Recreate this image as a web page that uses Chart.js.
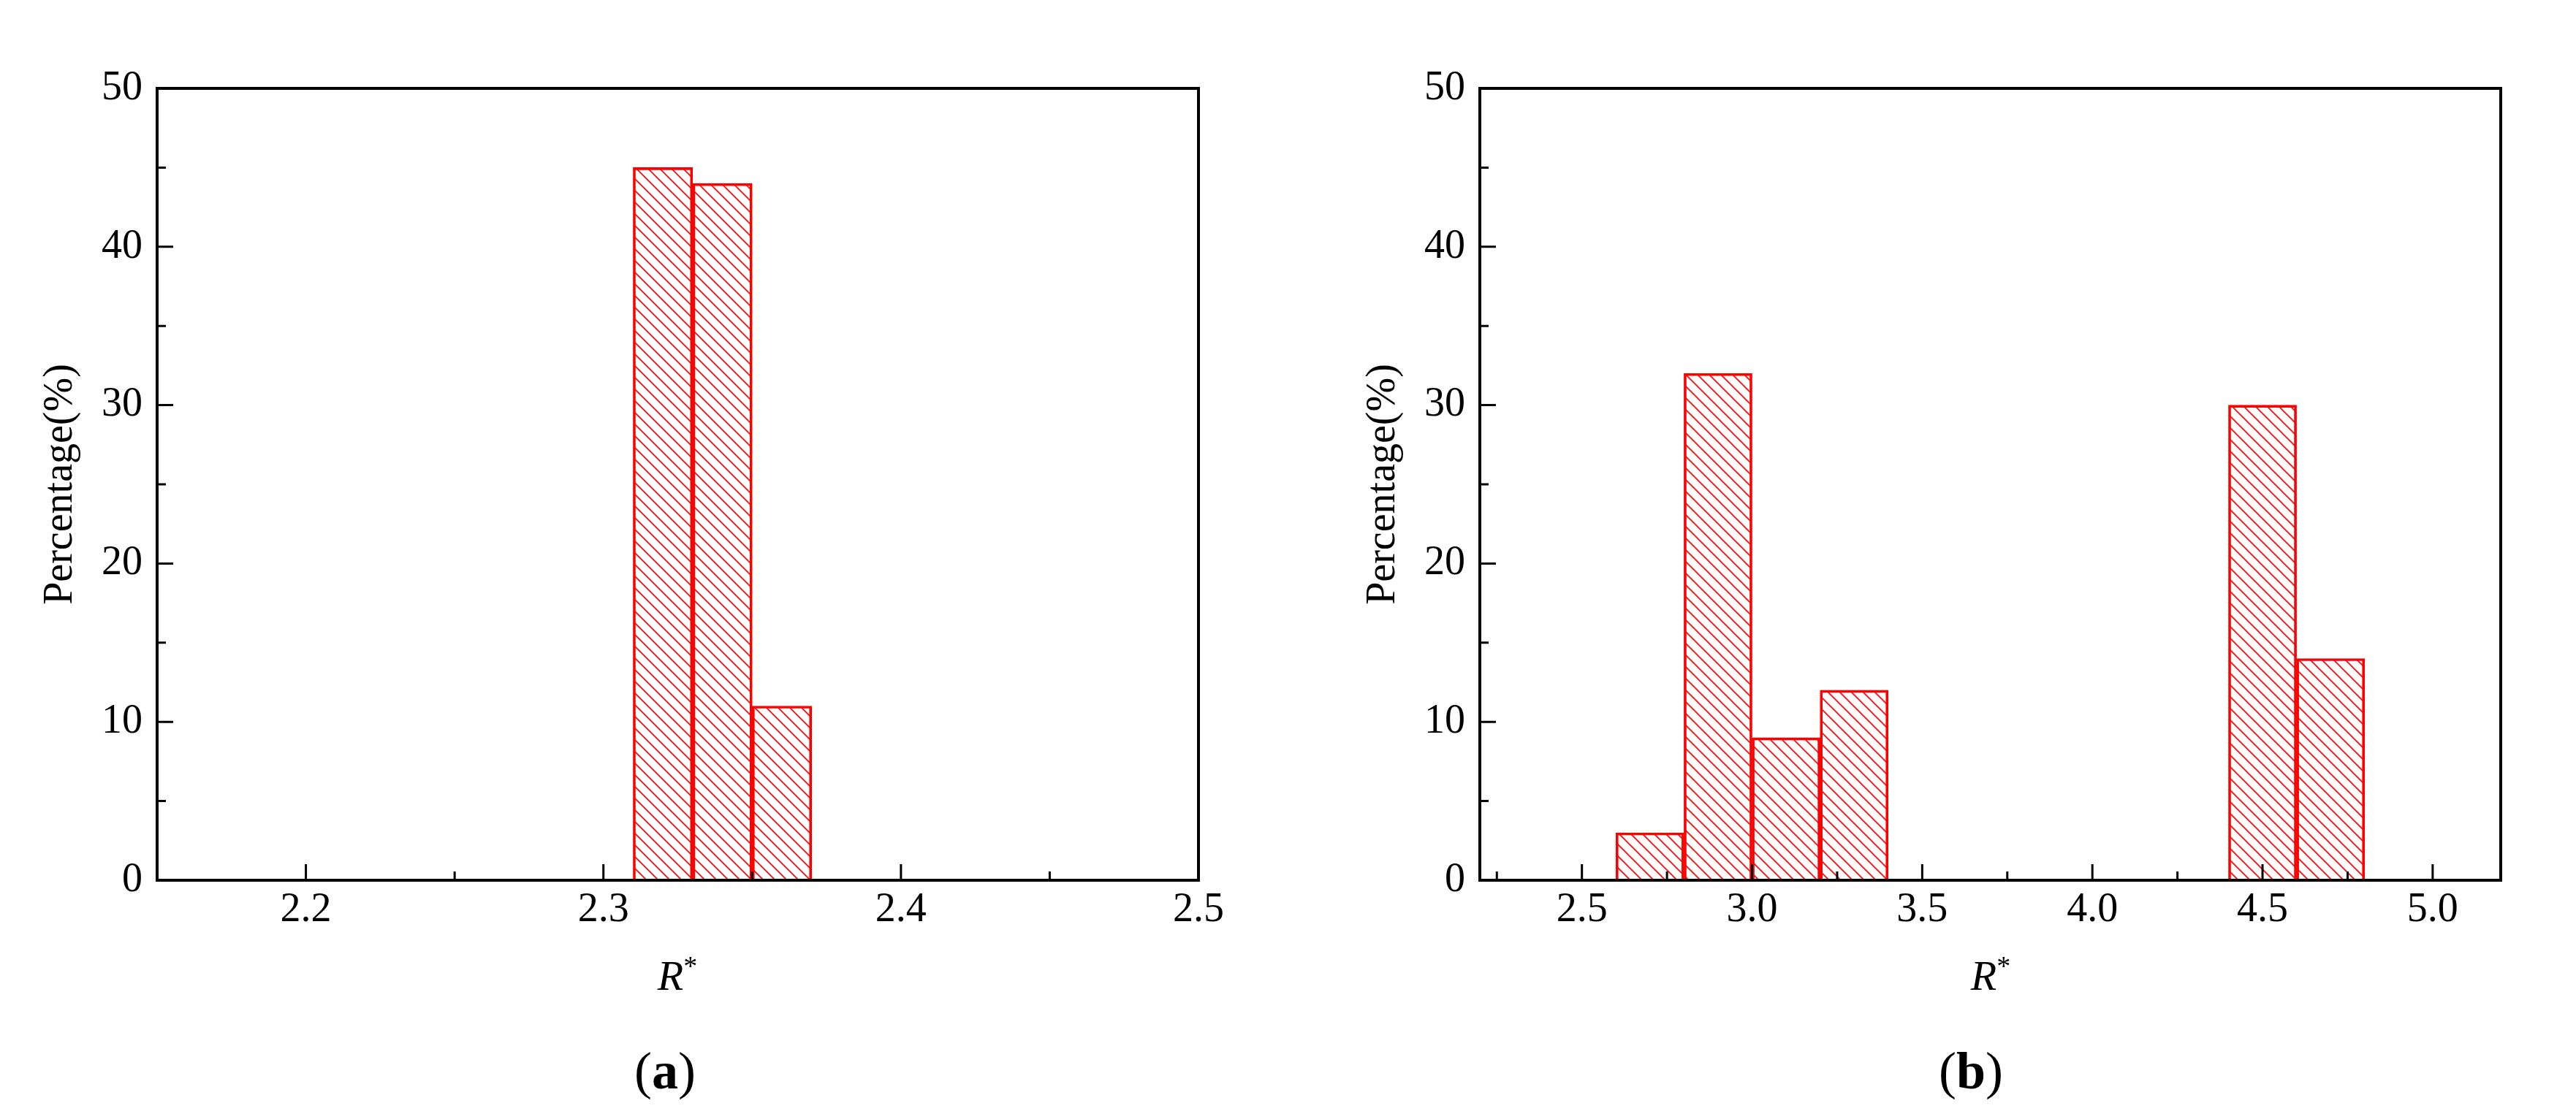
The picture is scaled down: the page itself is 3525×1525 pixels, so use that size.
<!DOCTYPE html>
<html>
<head>
<meta charset="utf-8">
<script src="https://cdn.jsdelivr.net/npm/chart.js@4.4.1/dist/chart.umd.min.js"></script>
<style>
  body{margin:0;background:#fff;width:3525px;height:1525px;position:relative;overflow:hidden;font-family:"Liberation Serif","Times New Roman",serif;}
  canvas{position:absolute;top:0;}
  .xt{position:absolute;top:1300px;font-size:58px;font-style:italic;text-align:center;width:200px;}
  .xt sup{font-style:normal;font-size:38px;}
  .cap{position:absolute;top:1425px;font-size:72px;text-align:center;width:200px;}
</style>
</head>
<body>
<canvas id="cnv-a" width="1680" height="1525" style="left:0px"></canvas>
<canvas id="cnv-b" width="1680" height="1525" style="left:1810px"></canvas>
<div class="xt" style="left:827px"><i>R</i><sup>*</sup></div>
<div class="xt" style="left:2624px"><i>R</i><sup>*</sup></div>
<div class="cap" style="left:810px">(<b>a</b>)</div>
<div class="cap" style="left:2597px">(<b>b</b>)</div>
<script>
// ---- data (a)
var binsA = [2.32, 2.34, 2.36];         // bin centres
var valuesA = [45, 44, 11];
var xTicksA = [2.2, 2.3, 2.4, 2.5];
var xMinorA = [2.15, 2.25, 2.35, 2.45];

// ---- data (b)
var binsB = [2.7, 2.9, 3.1, 3.3, 4.5, 4.7];
var valuesB = [3, 32, 9, 12, 30, 14];
var xTicksB = [2.5, 3.0, 3.5, 4.0, 4.5, 5.0];
var xMinorB = [2.25, 2.75, 3.25, 3.75, 4.25, 4.75];

var yTicks = [0, 10, 20, 30, 40, 50];
var yMinor = [5, 15, 25, 35, 45];

var FONT = '"Liberation Serif", "Times New Roman", serif';

var makeHatch = function(){
    var c = document.createElement('canvas');
    c.width = 16; c.height = 16;
    var g = c.getContext('2d');
    g.strokeStyle = '#ff0000';
    g.lineWidth = 1.6;
    g.beginPath();
    g.moveTo(-4, -4); g.lineTo(20, 20);
    g.moveTo(-4, 12); g.lineTo(4, 20);
    g.moveTo(12, -4); g.lineTo(20, 4);
    g.stroke();
    return g.createPattern(c, 'repeat');
};

//--------------------------------------
// frame + inward ticks
//--------------------------------------
var frameTicks = {
    id: 'frameTicks',
    afterDraw: function(chart, args, opts){
        var ctx = chart.ctx, a = chart.chartArea;
        var xs = chart.scales.x, ys = chart.scales.y;
        ctx.save();
        ctx.strokeStyle = '#000';
        ctx.lineWidth = 4;
        ctx.strokeRect(a.left, a.top, a.right - a.left, a.bottom - a.top);
        ctx.lineWidth = 3;
        ctx.beginPath();
        opts.xMajor.forEach(function(v){
            var p = xs.getPixelForValue(v);
            ctx.moveTo(p, a.bottom); ctx.lineTo(p, a.bottom - 22);
        });
        opts.xMinor.forEach(function(v){
            var p = xs.getPixelForValue(v);
            ctx.moveTo(p, a.bottom); ctx.lineTo(p, a.bottom - 12);
        });
        yTicks.forEach(function(v){
            var p = ys.getPixelForValue(v);
            ctx.moveTo(a.left, p); ctx.lineTo(a.left + 22, p);
        });
        yMinor.forEach(function(v){
            var p = ys.getPixelForValue(v);
            ctx.moveTo(a.left, p); ctx.lineTo(a.left + 12, p);
        });
        ctx.stroke();
        ctx.restore();
    }
};

var setChart = function(id, bins, values, xMin, xMax, xMajor, xMinor, dec, padRight){
    var cnv = document.getElementById(id);
    return new Chart(cnv, {
        type: 'bar',
        data: {
            datasets: [{
                data: bins.map(function(b, i){ return {x: b, y: values[i]}; }),
                backgroundColor: makeHatch(),
                borderColor: '#ff0000',
                borderWidth: 3,
                borderSkipped: 'bottom',
                barPercentage: 1,
                categoryPercentage: 1
            }]
        },
        options: {
            responsive: false,
            animation: false,
            devicePixelRatio: 1,
            layout: {padding: {top: 121, right: padRight, left: 50, bottom: 0}},
            plugins: {legend: {display: false}, tooltip: {enabled: false}, frameTicks: {xMajor: xMajor, xMinor: xMinor}},
            scales: {
                x: {
                    type: 'linear', min: xMin, max: xMax, offset: false,
                    grid: {display: false, offset: false}, border: {display: false},
                    afterBuildTicks: function(s){ s.ticks = xMajor.map(function(v){ return {value: v}; }); },
                    afterFit: function(s){ s.height = 320; },
                    ticks: {
                        color: '#000', padding: 0, maxRotation: 0, autoSkip: false,
                        font: {family: FONT, size: 56},
                        callback: function(v){ return Number(v).toFixed(dec); }
                    }
                },
                y: {
                    min: 0, max: 50,
                    grid: {display: false}, border: {display: false},
                    afterBuildTicks: function(s){ s.ticks = yTicks.map(function(v){ return {value: v}; }); },
                    afterFit: function(s){ s.width = 165; },
                    ticks: {color: '#000', padding: 12, font: {family: FONT, size: 56}},
                    title: {display: true, text: 'Percentage(%)', color: '#000', padding: 0,
                        font: {family: FONT, size: 56}}
                }
            }
        },
        plugins: [frameTicks]
    });
};

setChart('cnv-a', binsA, valuesA, 2.15, 2.5, xTicksA, xMinorA, 1, 40);
setChart('cnv-b', binsB, valuesB, 2.2, 5.2, xTicksB, xMinorB, 1, 68);
</script>
</body>
</html>
